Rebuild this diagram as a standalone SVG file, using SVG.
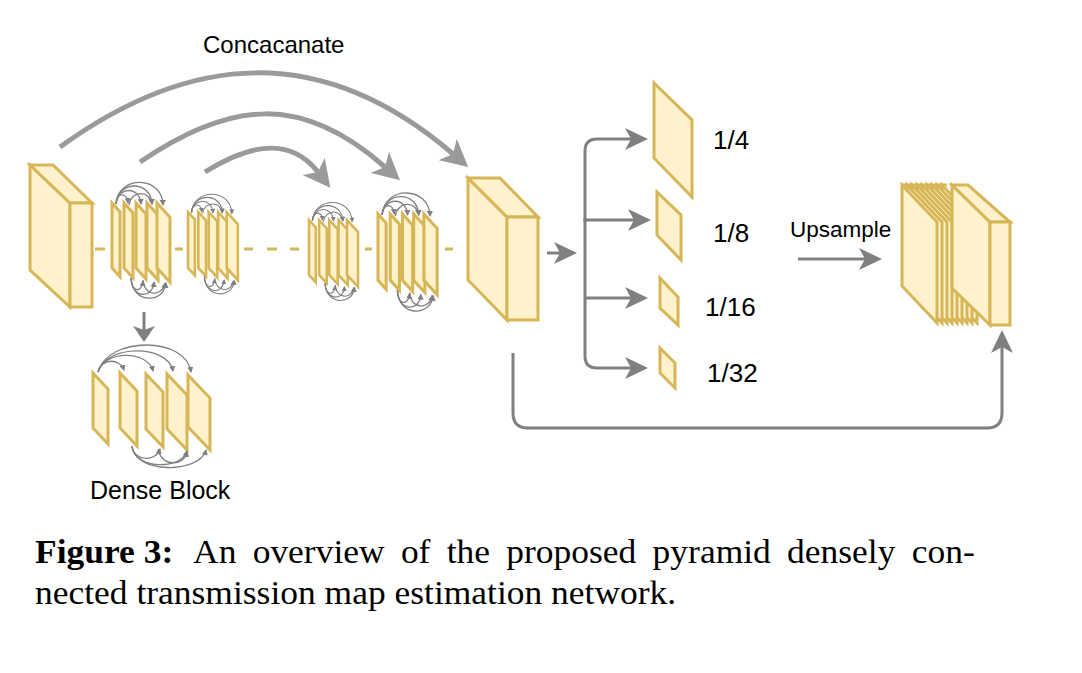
<svg xmlns="http://www.w3.org/2000/svg" width="1082" height="673" viewBox="0 0 1082 673">
<style>
.box{fill:#FFF2CC;stroke:#D6B656;stroke-width:3;stroke-linejoin:miter}
.lbl{font-family:"Liberation Sans",Arial,sans-serif;fill:#000}
.cap{font-family:"Liberation Serif","Times New Roman",serif;fill:#000}
.conn{fill:none;stroke:#808080;stroke-width:3}
.cat{fill:none;stroke:#9A9A9A;stroke-width:5}
.thin{fill:none;stroke:#808080;stroke-width:1.3}
.dash{fill:none;stroke:#D6B656;stroke-width:3}
</style>
<defs>
<marker id="a1" markerUnits="userSpaceOnUse" markerWidth="27" markerHeight="28" viewBox="0 0 27 28" refX="7" refY="14" orient="auto"><path d="M0,0 L27,14 L0,28 L7,14 z" fill="#9A9A9A"/></marker>
<marker id="a2" markerUnits="userSpaceOnUse" markerWidth="23" markerHeight="22" viewBox="0 0 23 22" refX="6" refY="11" orient="auto"><path d="M0,0 L23,11 L0,22 L6,11 z" fill="#808080"/></marker>
<marker id="a3" markerUnits="userSpaceOnUse" markerWidth="16" markerHeight="22" viewBox="0 0 16 22" refX="4" refY="11" orient="auto"><path d="M0,0 L16,11 L0,22 L4,11 z" fill="#808080"/></marker>
<marker id="a0" markerUnits="userSpaceOnUse" markerWidth="6" markerHeight="6" viewBox="0 0 6 6" refX="5" refY="3" orient="auto"><path d="M0,0 L6,3 L0,6 z" fill="#808080"/></marker>
<g id="db">
<g fill="#FFF2CC" stroke="#D6B656" stroke-width="3">
<polygon points="0,0 8,8.8 8,73.8 0,65"/>
<polygon points="12,0 21,9.9 21,74.9 12,65"/>
<polygon points="24,0 34,11 34,76 24,65"/>
<polygon points="35,0 46,12.1 46,77.1 35,65"/>
<polygon points="45,0 58,14.3 58,79.3 45,65"/>
</g>
<g fill="none" stroke="#808080" stroke-width="1.3">
<path d="M4,1 C5,-11 15,-11 16,0" marker-end="url(#a0)"/>
<path d="M4,1 C6,-17 28,-17 29,1" marker-end="url(#a0)"/>
<path d="M4,1 C6,-23 39,-23 40,1" marker-end="url(#a0)"/>
<path d="M4,1 C6,-28 50,-28 51,2" marker-end="url(#a0)"/>
<path d="M17,2 C19,-13 38,-13 40,1" marker-end="url(#a0)"/>
<path d="M19,75 C20,90 30,90 31,78" marker-end="url(#a0)"/>
<path d="M19,75 C20,96 41,96 42,79" marker-end="url(#a0)"/>
<path d="M19,75 C20,101 52,101 54,80" marker-end="url(#a0)"/>
<path d="M31,77 C32,94 51,94 53,80" marker-end="url(#a0)"/>
</g>
</g>
</defs>

<g id="dashes">
<path class="dash" d="M95,249 H105 M175,249 H183 M244,249 H253 M267,249 H277 M290,249 H299 M365,249 H372 M445,249 H453"/>
</g>

<g id="input-volume">
<polygon class="box" points="30,165 70,203 70,307 30,270"/>
<polygon class="box" points="30,165 53,165 92,203 70,203"/>
<rect class="box" x="70" y="203" width="22" height="104"/>
</g>

<g id="dense1"><use href="#db" transform="translate(112,203)"/></g>
<g id="dense2"><use href="#db" transform="translate(188,212) scale(0.86)"/></g>
<g id="dense3"><use href="#db" transform="translate(309,220) scale(0.845)"/></g>
<g id="dense4"><use href="#db" transform="translate(378,214) scale(1.02)"/></g>

<g id="encoder-output">
<polygon class="box" points="468,178 507,217 507,320 468,280"/>
<polygon class="box" points="468,178 500,178 538,217 507,217"/>
<rect class="box" x="507" y="217" width="31" height="103"/>
</g>

<g id="dense-block-detail">
<polygon class="box" points="93,373 108,389 108,444 93,428"/>
<polygon class="box" points="120,373 137,391 137,446 120,428"/>
<polygon class="box" points="146,374 163,392 163,447 146,429"/>
<polygon class="box" points="167,374 187,395 187,450 167,429"/>
<polygon class="box" points="188,375 210,398 210,450 188,427"/>
<g class="thin">
<path d="M98,372 C102,358 120,358 124,370" marker-end="url(#a0)"/>
<path d="M98,372 C104,350 148,350 153,371" marker-end="url(#a0)"/>
<path d="M98,372 C106,344 168,344 173,371" marker-end="url(#a0)"/>
<path d="M98,372 C108,336 186,336 191,372" marker-end="url(#a0)"/>
<path d="M132,446 C134,462 156,462 160,449" marker-end="url(#a0)"/>
<path d="M132,446 C134,470 182,470 187,451" marker-end="url(#a0)"/>
<path d="M132,446 C134,474 200,474 206,450" marker-end="url(#a0)"/>
<path d="M158,449 C162,468 184,466 187,452" marker-end="url(#a0)"/>
</g>
<text class="lbl" x="90" y="499" font-size="25">Dense Block</text>
</g>

<g id="pyr-4"><polygon class="box" points="654,83 692,120 692,197 654,158"/><text class="lbl" x="713" y="149" font-size="26">1/4</text></g>
<g id="pyr-8"><polygon class="box" points="657,192 681,215 681,260 657,235"/><text class="lbl" x="713" y="242" font-size="26">1/8</text></g>
<g id="pyr-16"><polygon class="box" points="660,278 678,297 678,325 660,308"/><text class="lbl" x="705" y="316" font-size="26">1/16</text></g>
<g id="pyr-32"><polygon class="box" points="660,348 675,363 675,388 660,373"/><text class="lbl" x="707" y="382" font-size="26">1/32</text></g>

<g id="upsampled-stack">
<polygon class="box" points="942,185 977,222 977,323 942,286"/>
<polygon class="box" points="937,185 972,222 972,323 937,286"/>
<polygon class="box" points="932,185 967,222 967,323 932,286"/>
<polygon class="box" points="927,185 962,222 962,323 927,286"/>
<polygon class="box" points="922,185 957,222 957,323 922,286"/>
<polygon class="box" points="917,185 952,222 952,323 917,286"/>
<polygon class="box" points="912,185 947,222 947,323 912,286"/>
<polygon class="box" points="907,185 942,222 942,323 907,286"/>
<polygon class="box" points="902,185 937,222 937,323 902,286"/>
<path d="M902,185 H947" stroke="#D6B656" stroke-width="3"/>
</g>

<g id="output-volume">
<polygon class="box" points="952,185 990,222 990,325 952,288"/>
<polygon class="box" points="952,185 968,185 1010,222 990,222"/>
<rect class="box" x="990" y="222" width="20" height="103"/>
</g>

<g id="connectors">
<path class="cat" d="M60,147 C190,53 321,41 453,154" marker-end="url(#a1)"/>
<path class="cat" d="M140,162 C231,100 302,94 385,167" marker-end="url(#a1)"/>
<path class="cat" d="M205,172 C256,140 293,140 318,172" marker-end="url(#a1)"/>
<path class="conn" d="M144,312 V330" marker-end="url(#a3)"/>
<path class="conn" d="M547,253 H560" marker-end="url(#a2)"/>
<path class="conn" d="M585,222 V151 Q585,139 597,139 H631" marker-end="url(#a2)"/>
<path class="conn" d="M585,220 H634" marker-end="url(#a2)"/>
<path class="conn" d="M585,298 H631" marker-end="url(#a2)"/>
<path class="conn" d="M585,218 V356 Q585,368 597,368 H631" marker-end="url(#a2)"/>
<path class="conn" d="M798,259 H865" marker-end="url(#a2)"/>
<path class="conn" d="M513,353 V413 Q513,428 528,428 H987 Q1002,428 1002,413 V347" marker-end="url(#a2)"/>
</g>

<g id="labels">
<text class="lbl" x="203" y="53" font-size="24">Concacanate</text>
<text class="lbl" x="790" y="237" font-size="22.5">Upsample</text>
</g>

<g id="caption" transform="translate(35,0) scale(1.075,1)">
<text class="cap" x="0" y="563" font-size="33" font-weight="bold">Figure 3:</text>
<text class="cap" x="147" y="563" font-size="33" word-spacing="6.9">An overview of the proposed pyramid densely con-</text>
<text class="cap" x="0" y="604" font-size="33">nected transmission map estimation network.</text>
</g>
</svg>
